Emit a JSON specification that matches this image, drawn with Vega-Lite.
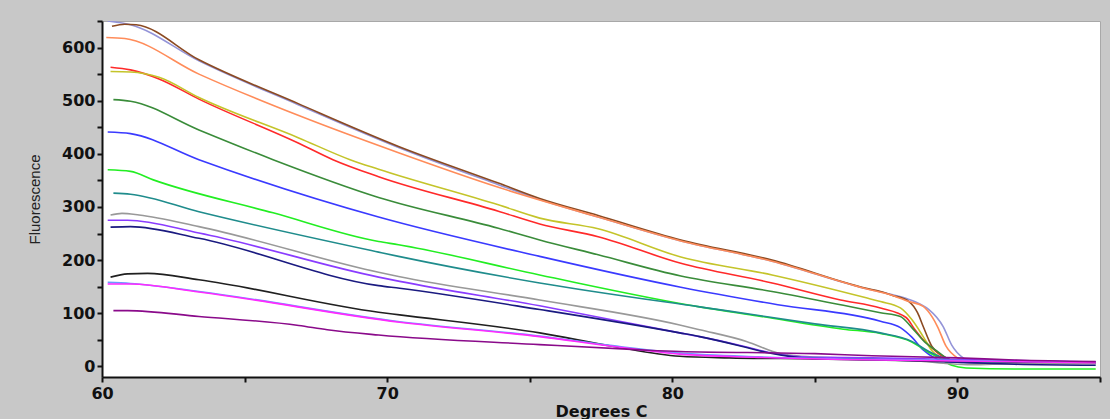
{
  "$schema": "https://vega.github.io/schema/vega-lite/v6.json",
  "width": 998,
  "height": 356,
  "autosize": "none",
  "padding": {"left": 102, "top": 21, "right": 10, "bottom": 42},
  "background": "#c8c8c8",
  "config": {
    "view": {"fill": "white", "stroke": "#a8a8a8", "strokeWidth": 1},
    "axis": {
      "domainColor": "#111111", "domainWidth": 2, "tickColor": "#111111", "tickWidth": 2, "tickSize": 5,
      "labelFont": "DejaVu Sans", "labelFontWeight": "bold", "labelFontSize": 16, "labelColor": "#111111",
      "grid": false
    }
  },
  "data": {"values": [
    {"s":"lavender","t":60.2,"f":650},{"s":"lavender","t":61,"f":643},{"s":"lavender","t":63.4,"f":575},{"s":"lavender","t":66.9,"f":492},{"s":"lavender","t":70.4,"f":412},{"s":"lavender","t":73.9,"f":342},{"s":"lavender","t":75.35,"f":314},{"s":"lavender","t":77.4,"f":281},{"s":"lavender","t":80.3,"f":236},{"s":"lavender","t":83.5,"f":198},{"s":"lavender","t":86.8,"f":146},{"s":"lavender","t":87.7,"f":135},{"s":"lavender","t":88.3,"f":126},{"s":"lavender","t":88.7,"f":117},{"s":"lavender","t":89.0,"f":107},{"s":"lavender","t":89.5,"f":75},{"s":"lavender","t":89.8,"f":40},{"s":"lavender","t":90.2,"f":16},{"s":"lavender","t":90.5,"f":9},{"s":"lavender","t":92,"f":8},{"s":"lavender","t":94.85,"f":6},
    {"s":"brown","t":60.35,"f":640},{"s":"brown","t":60.8,"f":644},{"s":"brown","t":61.2,"f":643},{"s":"brown","t":63.4,"f":577},{"s":"brown","t":66.9,"f":494},{"s":"brown","t":70.4,"f":414},{"s":"brown","t":73.9,"f":345},{"s":"brown","t":75.35,"f":316},{"s":"brown","t":77.4,"f":284},{"s":"brown","t":80.3,"f":238},{"s":"brown","t":83.5,"f":200},{"s":"brown","t":86.8,"f":147},{"s":"brown","t":87.3,"f":141},{"s":"brown","t":87.7,"f":134},{"s":"brown","t":88.3,"f":122},{"s":"brown","t":88.6,"f":101},{"s":"brown","t":88.8,"f":75},{"s":"brown","t":89.1,"f":38},{"s":"brown","t":89.5,"f":19},{"s":"brown","t":89.9,"f":10},{"s":"brown","t":90.5,"f":8},{"s":"brown","t":92,"f":7},{"s":"brown","t":94.85,"f":6},
    {"s":"orange","t":60.15,"f":619},{"s":"orange","t":60.8,"f":617},{"s":"orange","t":63.4,"f":550},{"s":"orange","t":66.9,"f":472},{"s":"orange","t":70.4,"f":402},{"s":"orange","t":73.9,"f":337},{"s":"orange","t":77.4,"f":281},{"s":"orange","t":80.3,"f":236},{"s":"orange","t":83.5,"f":198},{"s":"orange","t":86.8,"f":146},{"s":"orange","t":87.7,"f":134},{"s":"orange","t":88.3,"f":122},{"s":"orange","t":88.8,"f":113},{"s":"orange","t":88.95,"f":105},{"s":"orange","t":89.3,"f":75},{"s":"orange","t":89.6,"f":38},{"s":"orange","t":90.0,"f":16},{"s":"orange","t":90.4,"f":9},{"s":"orange","t":92,"f":7},{"s":"orange","t":94.85,"f":6},
    {"s":"red","t":60.3,"f":563},{"s":"red","t":61,"f":558},{"s":"red","t":62,"f":541},{"s":"red","t":63.4,"f":503},{"s":"red","t":66.9,"f":420},{"s":"red","t":68.1,"f":389},{"s":"red","t":69.7,"f":357},{"s":"red","t":73.9,"f":292},{"s":"red","t":75.35,"f":268},{"s":"red","t":77.4,"f":244},{"s":"red","t":80.3,"f":194},{"s":"red","t":83.5,"f":157},{"s":"red","t":85.9,"f":125},{"s":"red","t":87.3,"f":110},{"s":"red","t":88.2,"f":92},{"s":"red","t":88.5,"f":70},{"s":"red","t":88.8,"f":50},{"s":"red","t":89.1,"f":35},{"s":"red","t":89.5,"f":18},{"s":"red","t":90,"f":9},{"s":"red","t":91,"f":7},{"s":"red","t":94.85,"f":6},
    {"s":"yellow","t":60.3,"f":555},{"s":"yellow","t":61,"f":554},{"s":"yellow","t":62,"f":544},{"s":"yellow","t":63.4,"f":506},{"s":"yellow","t":66.9,"f":430},{"s":"yellow","t":68.7,"f":389},{"s":"yellow","t":69.7,"f":371},{"s":"yellow","t":73.9,"f":304},{"s":"yellow","t":75.35,"f":279},{"s":"yellow","t":77.4,"f":259},{"s":"yellow","t":80.3,"f":206},{"s":"yellow","t":83.5,"f":172},{"s":"yellow","t":86.8,"f":129},{"s":"yellow","t":87.3,"f":122},{"s":"yellow","t":88.0,"f":110},{"s":"yellow","t":88.4,"f":88},{"s":"yellow","t":88.8,"f":56},{"s":"yellow","t":89.1,"f":30},{"s":"yellow","t":89.5,"f":15},{"s":"yellow","t":90,"f":9},{"s":"yellow","t":91,"f":7},{"s":"yellow","t":94.85,"f":6},
    {"s":"darkgreen","t":60.4,"f":502},{"s":"darkgreen","t":61,"f":499},{"s":"darkgreen","t":63.4,"f":445},{"s":"darkgreen","t":66.0,"f":389},{"s":"darkgreen","t":69.7,"f":318},{"s":"darkgreen","t":73.9,"f":260},{"s":"darkgreen","t":75.35,"f":238},{"s":"darkgreen","t":77.4,"f":210},{"s":"darkgreen","t":80.3,"f":170},{"s":"darkgreen","t":83.5,"f":141},{"s":"darkgreen","t":86.0,"f":115},{"s":"darkgreen","t":87.3,"f":101},{"s":"darkgreen","t":88.0,"f":94},{"s":"darkgreen","t":88.4,"f":73},{"s":"darkgreen","t":88.85,"f":46},{"s":"darkgreen","t":89.3,"f":28},{"s":"darkgreen","t":89.6,"f":16},{"s":"darkgreen","t":90,"f":9},{"s":"darkgreen","t":91,"f":7},{"s":"darkgreen","t":94.85,"f":6},
    {"s":"blue","t":60.2,"f":441},{"s":"blue","t":61,"f":438},{"s":"blue","t":63.4,"f":389},{"s":"blue","t":69.7,"f":281},{"s":"blue","t":75.35,"f":207},{"s":"blue","t":80.3,"f":149},{"s":"blue","t":83.7,"f":116},{"s":"blue","t":87.3,"f":85},{"s":"blue","t":88.0,"f":73},{"s":"blue","t":88.4,"f":55},{"s":"blue","t":88.8,"f":31},{"s":"blue","t":89.2,"f":16},{"s":"blue","t":89.6,"f":9},{"s":"blue","t":91,"f":7},{"s":"blue","t":94.85,"f":6},
    {"s":"green","t":60.2,"f":370},{"s":"green","t":61,"f":367},{"s":"green","t":61.8,"f":351},{"s":"green","t":66,"f":289},{"s":"green","t":69.7,"f":235},{"s":"green","t":70.4,"f":229},{"s":"green","t":75.35,"f":172},{"s":"green","t":80.96,"f":112},{"s":"green","t":83,"f":95},{"s":"green","t":86,"f":70},{"s":"green","t":87.3,"f":62},{"s":"green","t":88.4,"f":46},{"s":"green","t":89.0,"f":26},{"s":"green","t":89.4,"f":15},{"s":"green","t":89.8,"f":2},{"s":"green","t":90.3,"f":-3},{"s":"green","t":92,"f":-5},{"s":"green","t":94.85,"f":-5},
    {"s":"teal","t":60.4,"f":326},{"s":"teal","t":61,"f":324},{"s":"teal","t":63.4,"f":291},{"s":"teal","t":69.7,"f":215},{"s":"teal","t":70.4,"f":207},{"s":"teal","t":75.35,"f":157},{"s":"teal","t":80.96,"f":112},{"s":"teal","t":82,"f":104},{"s":"teal","t":85,"f":80},{"s":"teal","t":87.3,"f":63},{"s":"teal","t":88.4,"f":47},{"s":"teal","t":89.0,"f":28},{"s":"teal","t":89.4,"f":18},{"s":"teal","t":89.8,"f":11},{"s":"teal","t":90.5,"f":8},{"s":"teal","t":94.85,"f":6},
    {"s":"gray","t":60.3,"f":285},{"s":"gray","t":60.7,"f":288},{"s":"gray","t":61.3,"f":285},{"s":"gray","t":63.4,"f":263},{"s":"gray","t":69.7,"f":177},{"s":"gray","t":70.4,"f":169},{"s":"gray","t":75.35,"f":125},{"s":"gray","t":80.26,"f":78},{"s":"gray","t":80.96,"f":69},{"s":"gray","t":82.6,"f":47},{"s":"gray","t":83.77,"f":24},{"s":"gray","t":84.5,"f":19},{"s":"gray","t":86,"f":16},{"s":"gray","t":88,"f":13},{"s":"gray","t":89.5,"f":6},{"s":"gray","t":90.5,"f":3},{"s":"gray","t":92,"f":5},{"s":"gray","t":94.85,"f":5},
    {"s":"violet","t":60.2,"f":275},{"s":"violet","t":60.9,"f":275},{"s":"violet","t":63.4,"f":251},{"s":"violet","t":69.7,"f":168},{"s":"violet","t":70.44,"f":160},{"s":"violet","t":75.35,"f":114},{"s":"violet","t":80.26,"f":63},{"s":"violet","t":80.96,"f":56},{"s":"violet","t":82.5,"f":38},{"s":"violet","t":83.4,"f":26},{"s":"violet","t":84.9,"f":17},{"s":"violet","t":87,"f":16},{"s":"violet","t":90,"f":13},{"s":"violet","t":92,"f":11},{"s":"violet","t":94.85,"f":8},
    {"s":"navy","t":60.3,"f":262},{"s":"navy","t":61,"f":263},{"s":"navy","t":63.4,"f":241},{"s":"navy","t":69.7,"f":152},{"s":"navy","t":70.44,"f":147},{"s":"navy","t":75.35,"f":107},{"s":"navy","t":80.26,"f":63},{"s":"navy","t":80.96,"f":56},{"s":"navy","t":82.5,"f":37},{"s":"navy","t":83.4,"f":25},{"s":"navy","t":84.9,"f":15},{"s":"navy","t":87,"f":13},{"s":"navy","t":90,"f":8},{"s":"navy","t":92,"f":4},{"s":"navy","t":94.85,"f":2},
    {"s":"black","t":60.3,"f":168},{"s":"black","t":60.9,"f":174},{"s":"black","t":61.6,"f":175},{"s":"black","t":63.4,"f":163},{"s":"black","t":69.7,"f":102},{"s":"black","t":70.44,"f":97},{"s":"black","t":75.35,"f":63},{"s":"black","t":77.9,"f":38},{"s":"black","t":80.26,"f":19},{"s":"black","t":82,"f":16},{"s":"black","t":85,"f":14},{"s":"black","t":88,"f":11},{"s":"black","t":90,"f":10},{"s":"black","t":92,"f":9},{"s":"black","t":94.85,"f":8},
    {"s":"lightblue","t":60.2,"f":158},{"s":"lightblue","t":61,"f":156},{"s":"lightblue","t":63.4,"f":141},{"s":"lightblue","t":70.44,"f":84},{"s":"lightblue","t":75.35,"f":57},{"s":"lightblue","t":77.9,"f":39},{"s":"lightblue","t":80.26,"f":25},{"s":"lightblue","t":83,"f":18},{"s":"lightblue","t":86,"f":14},{"s":"lightblue","t":90,"f":11},{"s":"lightblue","t":94.85,"f":8},
    {"s":"magenta","t":60.2,"f":155},{"s":"magenta","t":61,"f":155},{"s":"magenta","t":63.4,"f":140},{"s":"magenta","t":70.44,"f":83},{"s":"magenta","t":75.35,"f":56},{"s":"magenta","t":77.9,"f":38},{"s":"magenta","t":80.26,"f":23},{"s":"magenta","t":83,"f":17},{"s":"magenta","t":86,"f":13},{"s":"magenta","t":90,"f":10},{"s":"magenta","t":94.85,"f":7},
    {"s":"purple","t":60.4,"f":105},{"s":"purple","t":60.9,"f":105},{"s":"purple","t":63.4,"f":94},{"s":"purple","t":66.9,"f":77},{"s":"purple","t":67.9,"f":69},{"s":"purple","t":69.7,"f":59},{"s":"purple","t":75.35,"f":41},{"s":"purple","t":78.9,"f":31},{"s":"purple","t":80.26,"f":28},{"s":"purple","t":85,"f":24},{"s":"purple","t":87,"f":20},{"s":"purple","t":90,"f":16},{"s":"purple","t":92,"f":12},{"s":"purple","t":94.85,"f":9}
  ]},
  "mark": {"type": "line", "strokeWidth": 1.6, "interpolate": "monotone", "clip": true},
  "encoding": {
    "x": {
      "field": "t", "type": "quantitative",
      "scale": {"domain": [60, 95], "nice": false, "zero": false},
      "axis": {
        "title": "Degrees C", "titleFont": "DejaVu Sans", "titleFontWeight": "bold", "titleFontSize": 16, "titleColor": "#111111", "titlePadding": 2,
        "values": [60, 65, 70, 75, 80, 85, 90, 95],
        "labelExpr": "datum.value % 10 === 0 && datum.value < 95 ? datum.label : ''",
        "labelPadding": 3, "labelFlush": false
      }
    },
    "y": {
      "field": "f", "type": "quantitative",
      "scale": {"domain": [-20, 650], "nice": false, "zero": false},
      "axis": {
        "title": "Fluorescence", "titleFont": "Liberation Sans", "titleFontWeight": "normal", "titleFontSize": 15, "titleColor": "#222222", "titlePadding": 19,
        "values": [0, 50, 100, 150, 200, 250, 300, 350, 400, 450, 500, 550, 600, 650],
        "labelExpr": "datum.value % 100 === 0 ? datum.label : ''",
        "labelPadding": 2, "labelFlush": false
      }
    },
    "color": {
      "field": "s", "type": "nominal", "legend": null,
      "scale": {
        "domain": ["lavender", "brown", "orange", "red", "yellow", "darkgreen", "blue", "green", "teal", "gray", "violet", "navy", "black", "lightblue", "magenta", "purple"],
        "range": ["#9494d8", "#8b4a22", "#ff8c5a", "#ff2a2a", "#c4c42a", "#3a8c3a", "#3a3aff", "#22ee22", "#1f8c8c", "#999999", "#8a3cff", "#1a1a80", "#202020", "#6a9aff", "#ff2aff", "#8a0a8a"]
      }
    },
    "order": {"field": "t", "type": "quantitative"}
  }
}
